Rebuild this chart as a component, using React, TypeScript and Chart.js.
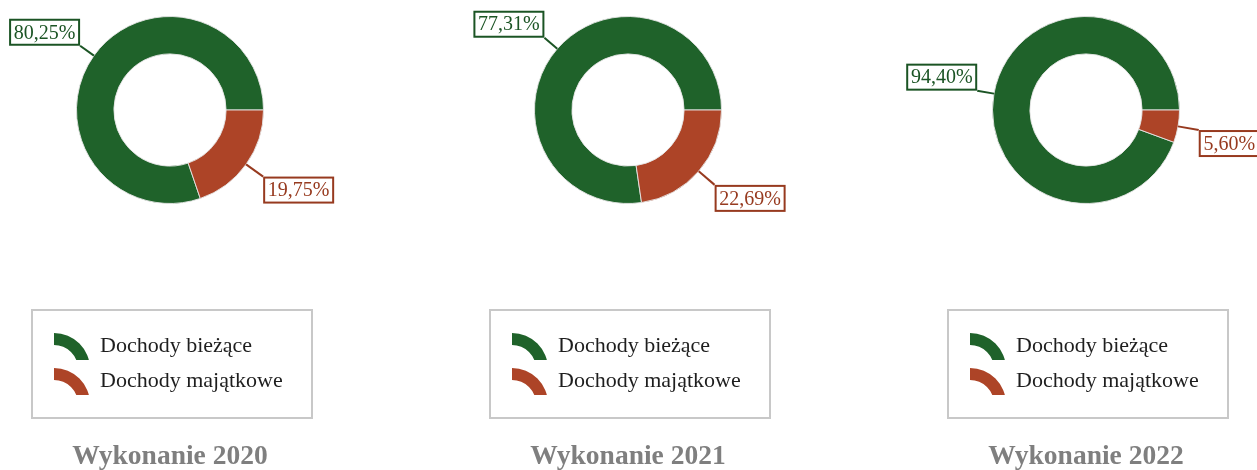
import React, { useEffect, useRef } from "react";
import { Chart, registerables } from "chart.js";

Chart.register(...registerables);

const categories = ["Dochody bieżące", "Dochody majątkowe"];
const titles = ["Wykonanie 2020", "Wykonanie 2021", "Wykonanie 2022"];
const currentIncome = [80.25, 77.31, 94.4];
const capitalIncome = [19.75, 22.69, 5.6];

const segColors = ["#1f622a", "#ad4427"];
const labelColors = ["#1b5424", "#973a1f"];
const FONT = '"Liberation Serif", "Times New Roman", serif';

const PANEL_W = 420;
const PANEL_H = 470;
const CX = 210;
const PANEL_LEFTS = [-40, 418, 876];

const fmt = (v: number) => v.toFixed(2).replace(".", ",") + "%";

const overlayPlugin = {
  id: "overlay",
  afterDraw(chart: any) {
    const ctx = chart.ctx as CanvasRenderingContext2D;
    const meta = chart.getDatasetMeta(0);
    const ds = chart.data.datasets[0];
    const opts = chart.options.plugins.overlay;

    // data labels with leader lines
    meta.data.forEach((arc: any, i: number) => {
      const p = arc.getProps(["x", "y", "startAngle", "endAngle", "outerRadius"], true);
      const mid = (p.startAngle + p.endAngle) / 2;
      const c = Math.cos(mid);
      const s = Math.sin(mid);
      const len = c < 0 ? 17 : 21;
      const x0 = p.x + c * p.outerRadius;
      const y0 = p.y + s * p.outerRadius;
      const x1 = p.x + c * (p.outerRadius + len);
      const y1 = p.y + s * (p.outerRadius + len);
      const col = labelColors[i];
      ctx.save();
      ctx.strokeStyle = col;
      ctx.lineWidth = 2;
      ctx.beginPath();
      ctx.moveTo(x0, y0);
      ctx.lineTo(x1, y1);
      ctx.stroke();
      const text = fmt(ds.data[i]);
      ctx.font = `20px ${FONT}`;
      const tw = ctx.measureText(text).width;
      const bw = Math.round(tw + 9);
      const bh = 27;
      const bx = c < 0 ? x1 - bw : x1;
      const by = s < 0 ? y1 - bh : y1;
      ctx.fillStyle = "#ffffff";
      ctx.fillRect(bx, by, bw, bh);
      ctx.strokeRect(bx + 1, by + 1, bw - 2, bh - 2);
      ctx.fillStyle = col;
      ctx.textAlign = "center";
      ctx.textBaseline = "middle";
      ctx.fillText(text, bx + bw / 2, by + bh / 2 + 1);
      ctx.restore();
    });

    // legend box
    const lx = CX - 170;
    ctx.save();
    ctx.strokeStyle = "#c8c8c8";
    ctx.lineWidth = 2;
    ctx.strokeRect(lx + 32, 310, 280, 108);
    chart.data.labels.forEach((lab: string, i: number) => {
      const cx = lx + 54;
      const cy = 369 + i * 35;
      ctx.save();
      ctx.beginPath();
      ctx.rect(cx - 2, cy - 40, 44, 31);
      ctx.clip();
      ctx.beginPath();
      ctx.arc(cx, cy, 36, -Math.PI / 2, 0);
      ctx.arc(cx, cy, 24, 0, -Math.PI / 2, true);
      ctx.closePath();
      ctx.fillStyle = segColors[i];
      ctx.fill();
      ctx.restore();
      ctx.fillStyle = "#1e1e1e";
      ctx.font = `22px ${FONT}`;
      ctx.textAlign = "left";
      ctx.textBaseline = "alphabetic";
      ctx.fillText(lab, lx + 100, 352 + i * 35);
    });
    ctx.restore();

    // title
    ctx.save();
    ctx.fillStyle = "#7f7f7f";
    ctx.font = `bold 27.5px ${FONT}`;
    ctx.textAlign = "center";
    ctx.textBaseline = "alphabetic";
    ctx.fillText(opts.title, CX, 464);
    ctx.restore();
  },
};

function Panel({ index }: { index: number }) {
  const ref = useRef<HTMLCanvasElement | null>(null);
  useEffect(() => {
    if (!ref.current) return;
    const values = [currentIncome[index], capitalIncome[index]];
    const total = values[0] + values[1];
    const rotation = 90 - (360 * values[0]) / total;
    const chart = new Chart(ref.current, {
      type: "doughnut",
      data: {
        labels: categories,
        datasets: [
          {
            data: values,
            backgroundColor: segColors,
            borderColor: "rgba(230,230,230,0.9)",
            borderWidth: 1,
          },
        ],
      },
      options: {
        responsive: false,
        animation: false,
        rotation,
        cutout: "60%",
        layout: { padding: { left: CX - 94, right: PANEL_W - CX - 94, top: 16, bottom: 266 } },
        plugins: {
          legend: { display: false },
          tooltip: { enabled: false },
          overlay: { title: titles[index] },
        } as any,
      },
      plugins: [overlayPlugin],
    });
    return () => chart.destroy();
  }, [index]);
  return (
    <canvas
      ref={ref}
      width={PANEL_W}
      height={PANEL_H}
      style={{ position: "absolute", left: PANEL_LEFTS[index], top: 0, width: PANEL_W, height: PANEL_H }}
    />
  );
}

export default function App() {
  return (
    <div style={{ position: "absolute", left: 0, top: 0, width: 1257, height: 470, background: "#fff", overflow: "hidden" }}>
      {titles.map((_, i) => (
        <Panel key={i} index={i} />
      ))}
    </div>
  );
}
